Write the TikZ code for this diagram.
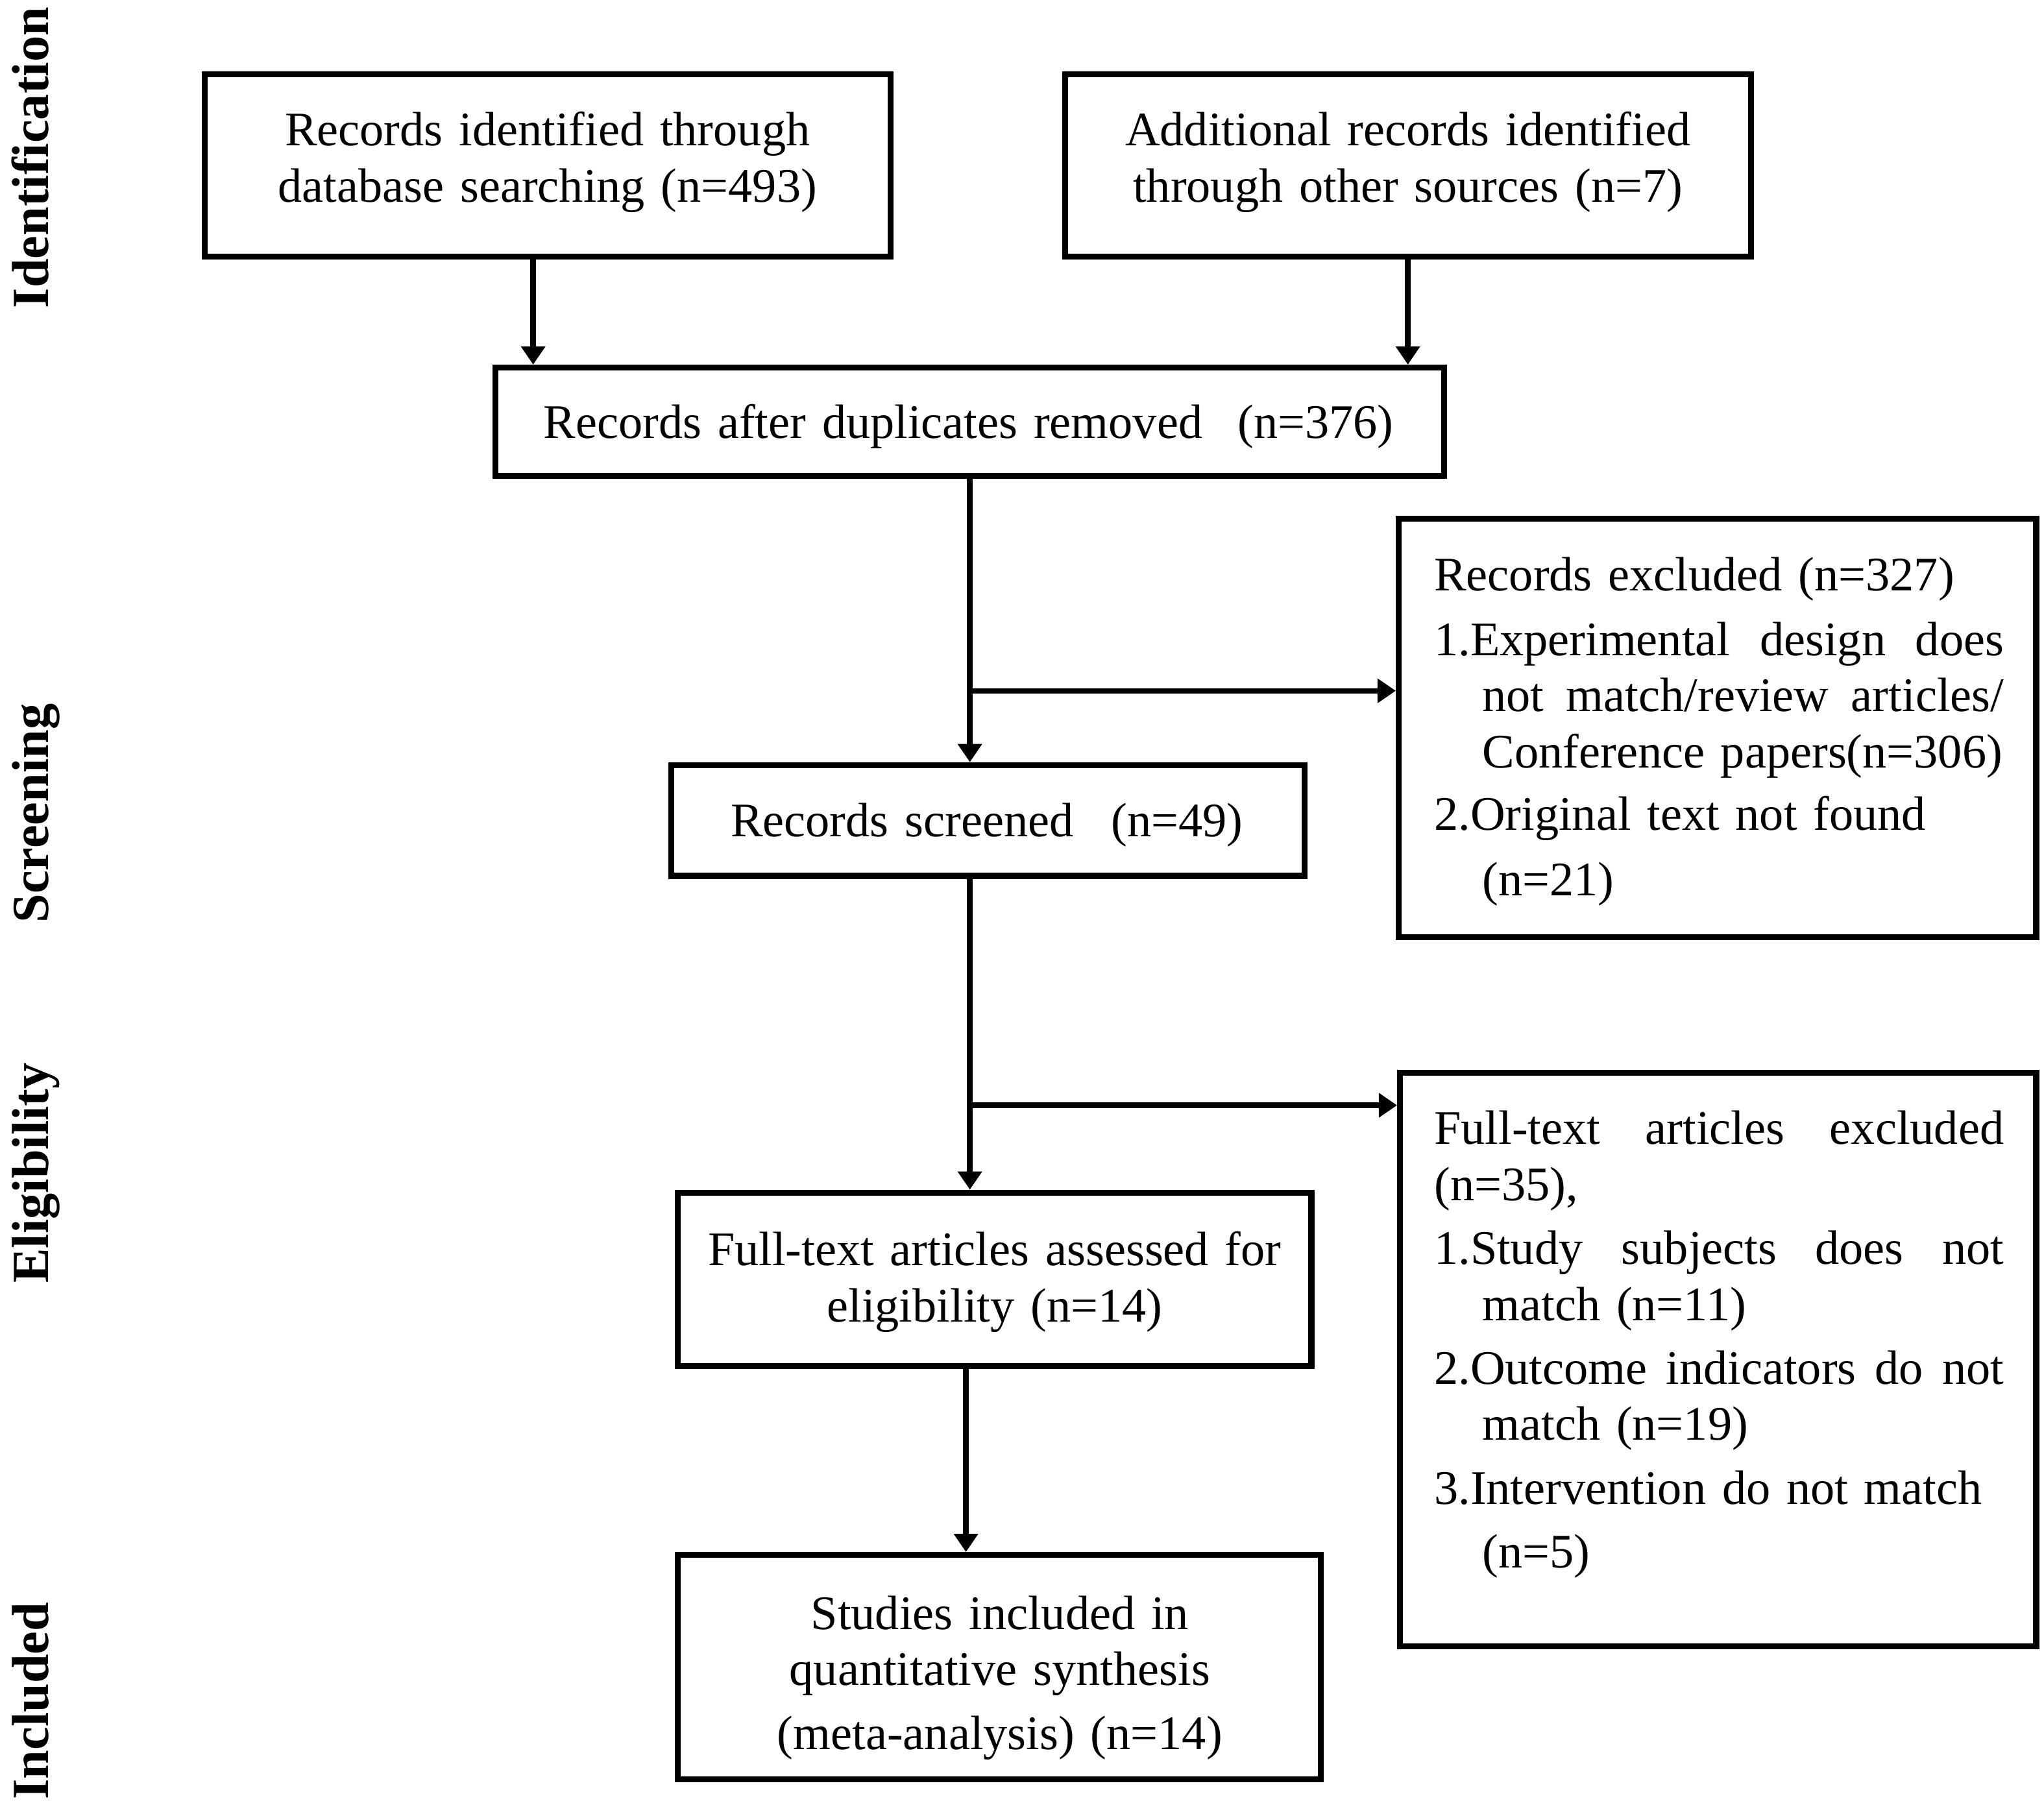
\documentclass[tikz,border=0pt]{standalone}
\usepackage{fontspec}
\setmainfont{Liberation Serif}
\usetikzlibrary{arrows.meta}
\newcommand{\jline}[2]{\leavevmode\hbox to #1{#2}}
\begin{document}
\begin{tikzpicture}[x=1pt,y=-1pt,
  box/.style={draw, line width=4.5pt, inner sep=0pt},
  txt/.style={inner sep=0pt, font=\fontsize{37}{43}\selectfont},
  ctxt/.style={txt, text width=720pt, align=center, anchor=base},
  ltxt/.style={txt, text width=437pt, align=left, anchor=base west},
  lab/.style={inner sep=0pt, font=\fontsize{40}{48}\selectfont\bfseries, rotate=90, anchor=base},
  arr/.style={line width=4.2pt, -{Triangle[length=14pt,width=18pt]}}]
\useasboundingbox (0,0) rectangle (1568,1383);

% stage labels
\node[lab] (lid) at (37,121) {Identification};
\node[lab] (lsc) at (37,624) {Screening};
\node[lab] (lel) at (37,900) {Eligibility};
\node[lab] (lin) at (37,1305) {Included};

% boxes
\node[box, minimum width=526pt, minimum height=140pt] (b1) at (420,127) {};
\node[box, minimum width=526pt, minimum height=140pt] (b2) at (1080,127) {};
\node[box, minimum width=728pt, minimum height=83pt] (b3) at (744,323.5) {};
\node[box, minimum width=489pt, minimum height=321pt] (b4) at (1317.5,558.5) {};
\node[box, minimum width=486pt, minimum height=85pt] (b5) at (758,629.5) {};
\node[box, minimum width=488pt, minimum height=440pt] (b6) at (1318,1043) {};
\node[box, minimum width=486pt, minimum height=133pt] (b7) at (763,981.5) {};
\node[box, minimum width=493pt, minimum height=172pt] (b8) at (766.5,1279) {};

% texts
\node[ctxt] (t1) at (420,112) {Records identified through\\database searching (n=493)};
\node[ctxt] (t2) at (1080,112) {Additional records identified\\through other sources (n=7)};
\node[ctxt] (t3) at (743,336) {Records after duplicates removed\hspace{27pt}(n=376)};
\node[ctxt] (t5) at (757,642) {Records screened\hspace{29pt}(n=49)};
\node[ctxt] (t7) at (763,971) {Full-text articles assessed for\\eligibility (n=14)};
\node[ctxt] (t8) at (767,1250) {Studies included in\\quantitative synthesis\\[6pt](meta-analysis) (n=14)};

\node[ltxt] (t4) at (1100,453) {Records excluded (n=327)\\[7pt]
\jline{437pt}{1.Experimental\hfill design\hfill does}\\
\hspace*{37pt}\jline{400pt}{not\hfill match/review\hfill articles/}\\
\hspace*{37pt}Conference papers(n=306)\\[5pt]
2.Original text not found\\[7pt]
\hspace*{37pt}(n=21)};

\node[ltxt] (t6) at (1100,878) {\jline{437pt}{Full-text\hfill articles\hfill excluded}\\
(n=35),\\[6pt]
\jline{437pt}{1.Study\hfill subjects\hfill does\hfill not}\\
\hspace*{37pt}match (n=11)\\[6pt]
\jline{437pt}{2.Outcome\hfill indicators\hfill do\hfill not}\\
\hspace*{37pt}match (n=19)\\[6pt]
3.Intervention do not match\\[6pt]
\hspace*{37pt}(n=5)};

% connectors
\coordinate (v0) at (409,0);
\coordinate (v1) at (744,0);
\coordinate (v2) at (741,0);
\coordinate (j1) at (744,530);
\coordinate (j2) at (744,848);

\draw[arr] (b1.south -| v0) -- (b3.north -| v0);
\draw[arr] (b2.south) -- (b2.south |- b3.north);
\draw[arr] (b3.south -| v1) -- (b5.north -| v1);
\draw[arr] (j1) -- (j1 -| b4.west);
\draw[arr] (b5.south -| v1) -- (b7.north -| v1);
\draw[arr] (j2) -- (j2 -| b6.west);
\draw[arr] (b7.south -| v2) -- (b8.north -| v2);
\end{tikzpicture}
\end{document}
